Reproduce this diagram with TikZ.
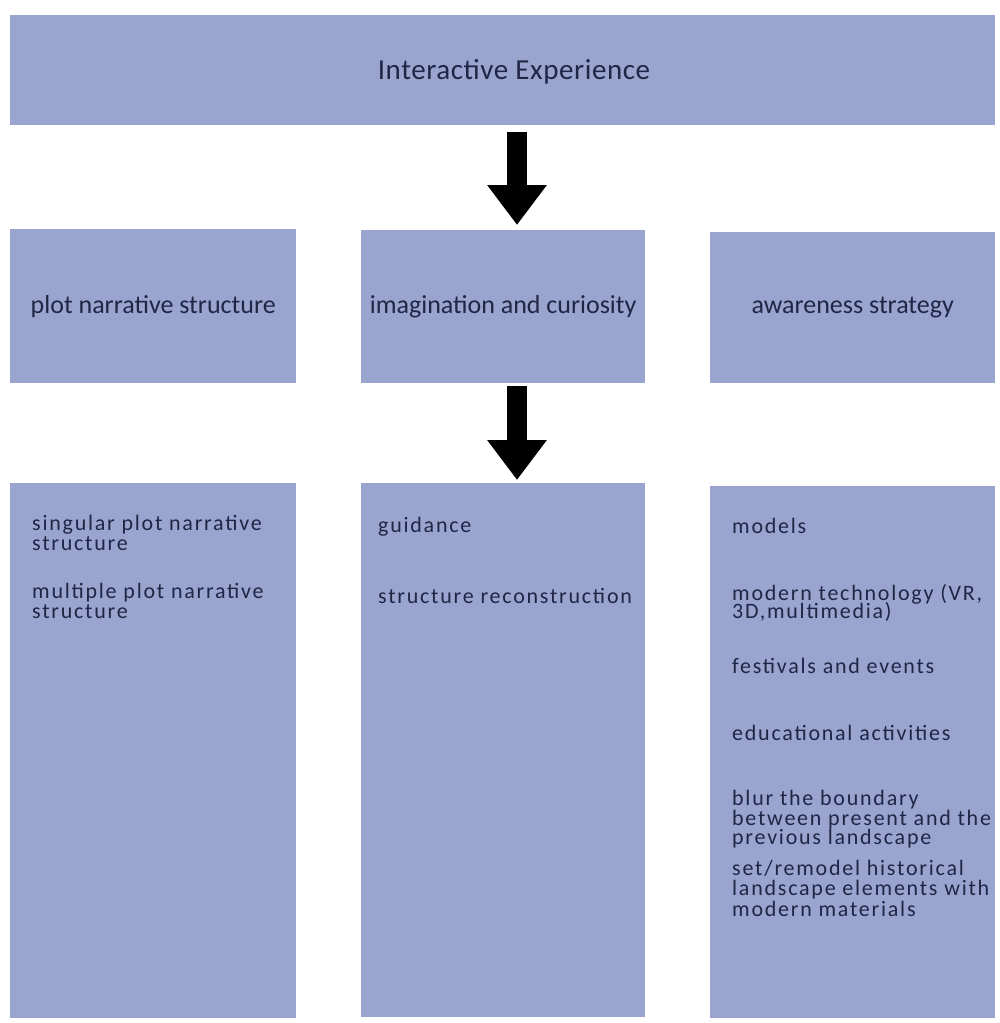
\documentclass[tikz,border=0pt]{standalone}
\usepackage{fontspec}
\setmainfont{Carlito}
\newfontfamily\itemfont[LetterSpace=8]{Carlito}
\newfontfamily\titlefont[LetterSpace=2]{Carlito}
\usetikzlibrary{arrows.meta}
\definecolor{boxfill}{RGB}{153,165,206}
\definecolor{ink}{RGB}{32,38,70}
\begin{document}
\begin{tikzpicture}[x=1pt,y=-1pt,
  panel/.style={fill=boxfill, draw=none, inner sep=0pt, anchor=north west},
  title/.style={inner sep=0pt, text=ink, font=\titlefont\fontsize{29}{29}\selectfont},
  head/.style={inner sep=0pt, text=ink, font=\fontsize{26}{26}\selectfont},
  item/.style={anchor=base west, inner sep=0pt, text=ink, font=\itemfont\fontsize{22}{20}\selectfont},
  flow/.style={line width=20pt, black, -{Triangle[length=40pt,width=57pt]}}]
\useasboundingbox[fill=white] (0,0) rectangle (1000,1023);

% top box
\node[panel, minimum width=985pt, minimum height=110pt] (top) at (10,15) {};
\node[title] (toptext) at (514,72) {Interactive Experience};

% second row
\node[panel, minimum width=286pt, minimum height=154pt] (plot) at (10,229) {};
\node[panel, minimum width=284pt, minimum height=153pt] (imag) at (361,230) {};
\node[panel, minimum width=285pt, minimum height=151pt] (aware) at (710,232) {};
\node[head] (plott) at (plot.center) {plot narrative structure};
\node[head] (imagt) at (imag.center) {imagination and curiosity};
\node[head] (awaret) at (aware.center) {awareness strategy};

% third row
\node[panel, minimum width=286pt, minimum height=535pt] (plotlist) at (10,483) {};
\node[panel, minimum width=284pt, minimum height=534pt] (imaglist) at (361,483) {};
\node[panel, minimum width=285pt, minimum height=532pt] (awarelist) at (710,486) {};

% left column items
\node[item] (l1a) at (32,530) {singular plot narrative};
\node[item] (l1b) at (32,550) {structure};
\node[item] (l2a) at (32,598) {multiple plot narrative};
\node[item] (l2b) at (32,618) {structure};

% middle column items
\node[item] (m1) at (378,532) {guidance};
\node[item] (m2) at (378,603) {structure reconstruction};

% right column items
\node[item] (r1) at (732,533) {models};
\node[item] (r2a) at (732,600) {modern technology (VR,};
\node[item] (r2b) at (732,618) {3D,multimedia)};
\node[item] (r3) at (732,673) {festivals and events};
\node[item] (r4) at (732,740) {educational activities};
\node[item] (r5a) at (732,805) {blur the boundary};
\node[item] (r5b) at (732,825) {between present and the};
\node[item] (r5c) at (732,844) {previous landscape};
\node[item] (r6a) at (732,875) {set/remodel historical};
\node[item] (r6b) at (732,895) {landscape elements with};
\node[item] (r6c) at (732,916) {modern materials};

% arrows
\coordinate (ax) at (517,0);
\draw[flow, shorten <=7pt, shorten >=5pt] (top.south -| ax) -- (imag.north -| ax);
\draw[flow, shorten <=3pt, shorten >=3pt] (imag.south -| ax) -- (imaglist.north -| ax);
\end{tikzpicture}
\end{document}
